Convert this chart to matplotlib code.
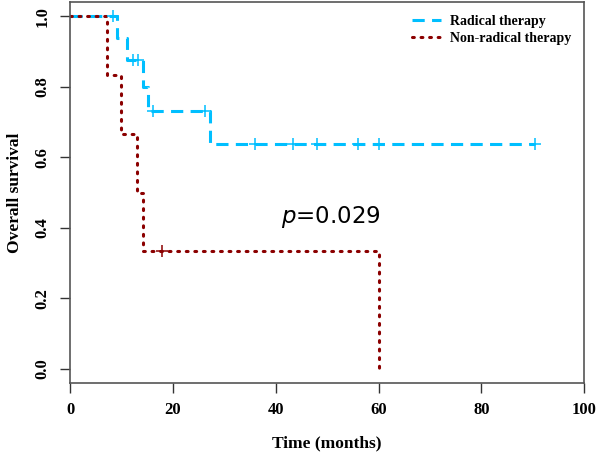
import matplotlib
matplotlib.use("Agg")
import matplotlib.pyplot as plt
import numpy as np

# Kaplan-Meier steps
rad_time = [0, 9.1, 11.0, 14.1, 15.1, 27.2, 90.5]
rad_surv = [1.0, 0.9375, 0.875, 0.80, 0.73, 0.637, 0.637]
rad_cens = [8.3, 12.3, 13.3, 16.1, 26.3, 36, 43.4, 48, 56.1, 60, 90.5]

non_time = [0, 7.1, 10.0, 13.0, 14.1, 60.0]
non_surv = [1.0, 0.833, 0.667, 0.50, 0.333, 0.0]
non_cens = [17.8]

x_ticks = [0, 20, 40, 60, 80, 100]
y_ticks = [0.0, 0.2, 0.4, 0.6, 0.8, 1.0]

CYAN = "#00BFFF"
RED = "#8B0000"
serif = "Liberation Serif"


def surv_at(times, surv, t):
    idx = np.searchsorted(times, t, side="right") - 1
    return np.asarray(surv)[idx]


fig = plt.figure(figsize=(6, 4.53), dpi=100)
ax = fig.add_axes([0.1167, 0.1545, 0.857, 0.841])

ax.step(rad_time, rad_surv, where="post", color=CYAN, lw=2.2,
        dashes=(4, 2.4), label="Radical therapy")
ax.step(non_time, non_surv, where="post", color=RED, lw=2.2,
        dashes=(0.6, 2.2), dash_capstyle="round", label="Non-radical therapy")

ax.plot(rad_cens, surv_at(rad_time, rad_surv, rad_cens), "+", color=CYAN,
        ms=9, mew=1.1, ls="none")
ax.plot(non_cens, surv_at(non_time, non_surv, non_cens), "+", color=RED,
        ms=9, mew=1.1, ls="none")

ax.set_xlim(0, 100)
ax.set_ylim(-0.04, 1.04)
ax.set_xticks(x_ticks)
ax.set_yticks(y_ticks)
ax.set_xticklabels([str(v) for v in x_ticks], family=serif,
                   fontweight="bold", fontsize=12)
ax.set_yticklabels([f"{v:.1f}" for v in y_ticks], family=serif,
                   fontweight="bold", fontsize=12, rotation=90, va="center")
ax.tick_params(direction="out", length=7, width=1, color="#333333", pad=7)
for s in ax.spines.values():
    s.set_color("#555555")
    s.set_linewidth(1.2)

ax.set_xlabel("Time (months)", family=serif, fontweight="bold",
              fontsize=12.5, labelpad=12)
ax.set_ylabel("Overall survival", family=serif, fontweight="bold",
              fontsize=12.5, labelpad=8)

ax.text(41, 0.43, "$\\mathit{p}$=0.029", fontsize=16.5, family="DejaVu Sans",
        va="center", ha="left")

leg = ax.legend(loc="upper right", frameon=False, handlelength=2.1,
                handletextpad=0.6, borderaxespad=0.55, labelspacing=0.25,
                prop={"family": serif, "weight": "bold", "size": 10})

fig.savefig("out.png", dpi=100)
